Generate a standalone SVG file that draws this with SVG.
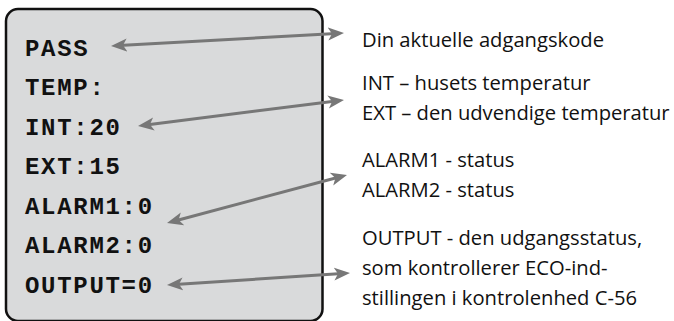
<svg xmlns="http://www.w3.org/2000/svg" width="674" height="321" viewBox="0 0 674 321">
<style>
.mono{font-family:"Liberation Mono","Courier New",monospace;font-weight:bold;font-size:24px;letter-spacing:1.7px;fill:#111}
.lbl{font-family:"Open Sans","Noto Sans",sans-serif;font-size:20.2px;fill:#111}
.con{stroke:#777;stroke-width:3;fill:none;marker-start:url(#ah);marker-end:url(#ah)}
</style>
<defs>
<marker id="ah" markerUnits="userSpaceOnUse" markerWidth="18" markerHeight="14" viewBox="0 0 18 14" refX="8" refY="7" orient="auto-start-reverse">
<path d="M16,7 L0,0.5 L4,7 L0,13.5 Z" fill="#777"/>
</marker>
</defs>
<g id="panel">
<rect x="6" y="9" width="316.5" height="312" rx="12" ry="12" fill="#d9dadb" stroke="#111" stroke-width="2.5"/>
<text class="mono" x="25" y="56">PASS</text>
<text class="mono" x="25" y="95">TEMP:</text>
<text class="mono" x="25" y="134.5">INT:20</text>
<text class="mono" x="25" y="174">EXT:15</text>
<text class="mono" x="25" y="213.5">ALARM1:0</text>
<text class="mono" x="25" y="253">ALARM2:0</text>
<text class="mono" x="25" y="292.5">OUTPUT=0</text>
</g>
<g id="label-pass"><text class="lbl" x="362" y="47">Din aktuelle adgangskode</text></g>
<g id="label-temp">
<text class="lbl" x="362" y="90">INT – husets temperatur</text>
<text class="lbl" x="362" y="120">EXT – den udvendige temperatur</text>
</g>
<g id="label-alarm">
<text class="lbl" x="362" y="167">ALARM1 - status</text>
<text class="lbl" x="362" y="197">ALARM2 - status</text>
</g>
<g id="label-output">
<text class="lbl" x="362" y="245">OUTPUT - den udgangsstatus,</text>
<text class="lbl" x="362" y="275">som kontrollerer ECO-ind-</text>
<text class="lbl" x="362" y="305">stillingen i kontrolenhed C-56</text>
</g>
<g id="connectors">
<line class="con" x1="119" y1="45.55" x2="336" y2="33.45"/>
<line class="con" x1="145.94" y1="125" x2="336.06" y2="101"/>
<line class="con" x1="174.73" y1="220.94" x2="339.27" y2="177.06"/>
<line class="con" x1="174.98" y1="284.48" x2="342.02" y2="273.52"/>
</g>
</svg>
